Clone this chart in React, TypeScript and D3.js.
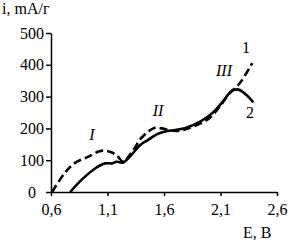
import React, { useRef, useEffect } from "react";
import * as d3 from "d3";

// curve 1 (dashed)
const e1 = [0.61, 0.72, 0.81, 0.93, 1.02, 1.08, 1.14, 1.18, 1.24, 1.3, 1.34, 1.4, 1.46, 1.52, 1.58, 1.65, 1.72, 1.8, 1.9, 2.0, 2.1, 2.18, 2.27, 2.38];
const i1 = [0, 59, 91, 111, 127, 130, 124, 116, 95, 118, 138, 170, 190, 202, 200, 194, 192, 198, 212, 232, 272, 310, 342, 405];

// curve 2 (solid)
const e2 = [0.77, 0.87, 0.99, 1.08, 1.14, 1.18, 1.24, 1.31, 1.39, 1.46, 1.54, 1.61, 1.7, 1.79, 1.92, 2.04, 2.12, 2.2, 2.26, 2.33, 2.39];
const i2 = [0, 38, 74, 90, 90, 95, 93, 116, 148, 164, 182, 190, 195, 201, 221, 252, 284, 318, 322, 305, 282];

const xTicks = [0.6, 1.1, 1.6, 2.1, 2.6];
const yTicks = [0, 100, 200, 300, 400, 500];

const FONT = "Liberation Serif";

const App = () => {
  const svgRef = useRef<SVGSVGElement>(null);

  useEffect(() => {
    const width = 288;
    const height = 243;

    const svg = d3
      .select(svgRef.current)
      .attr("width", width)
      .attr("height", height)
      .attr("font-family", FONT);
    svg.selectAll("*").remove();

    const x = d3.scaleLinear().domain([0.6, 2.6]).range([51, 277]);
    const y = d3.scaleLinear().domain([0, 500]).range([192, 33]);

    const xAxis = d3
      .axisBottom(x)
      .tickValues(xTicks)
      .tickSize(4)
      .tickSizeOuter(0)
      .tickPadding(8)
      .tickFormat((d) => d3.format(".1f")(d as number).replace(".", ","));

    const yAxis = d3.axisLeft(y).tickValues(yTicks).tickSize(5).tickSizeOuter(0).tickPadding(2);

    const gx = svg.append("g").attr("transform", "translate(0,192)").call(xAxis);
    const gy = svg.append("g").attr("transform", "translate(51,0)").call(yAxis);

    [gx, gy].forEach((g) => {
      g.attr("font-family", FONT).attr("font-size", 16);
      g.selectAll("path, line").attr("stroke", "#000").attr("stroke-width", 1.5);
      g.selectAll("text").attr("fill", "#000");
    });
    // the zero label sits further left in the original
    gy.selectAll("text").filter((d) => d === 0).attr("x", -15);

    const line = d3
      .line<[number, number]>()
      .x((d) => x(d[0]))
      .y((d) => y(d[1]))
      .curve(d3.curveCatmullRom.alpha(0.5));

    svg
      .append("path")
      .datum(e1.map((e, k) => [e, i1[k]] as [number, number]))
      .attr("d", line)
      .attr("fill", "none")
      .attr("stroke", "#000")
      .attr("stroke-width", 2.6)
      .attr("stroke-dasharray", "8,4");

    svg
      .append("path")
      .datum(e2.map((e, k) => [e, i2[k]] as [number, number]))
      .attr("d", line)
      .attr("fill", "none")
      .attr("stroke", "#000")
      .attr("stroke-width", 2.6);

    const text = (tx: number, ty: number, s: string, italic = false, anchor = "start") =>
      svg
        .append("text")
        .attr("x", tx)
        .attr("y", ty)
        .attr("text-anchor", anchor)
        .attr("font-size", 16)
        .attr("font-style", italic ? "italic" : "normal")
        .text(s);

    text(2, 14, "i, mA/г");
    text(243, 238, "E, B");
    text(92, 140, "I", true, "middle");
    text(158, 116, "II", true, "middle");
    text(224, 76, "III", true, "middle");
    text(246, 53, "1", false, "middle");
    text(250, 118, "2", false, "middle");
  }, []);

  return <svg ref={svgRef} style={{ position: "absolute", left: 0, top: 0 }}></svg>;
};

export default App;
